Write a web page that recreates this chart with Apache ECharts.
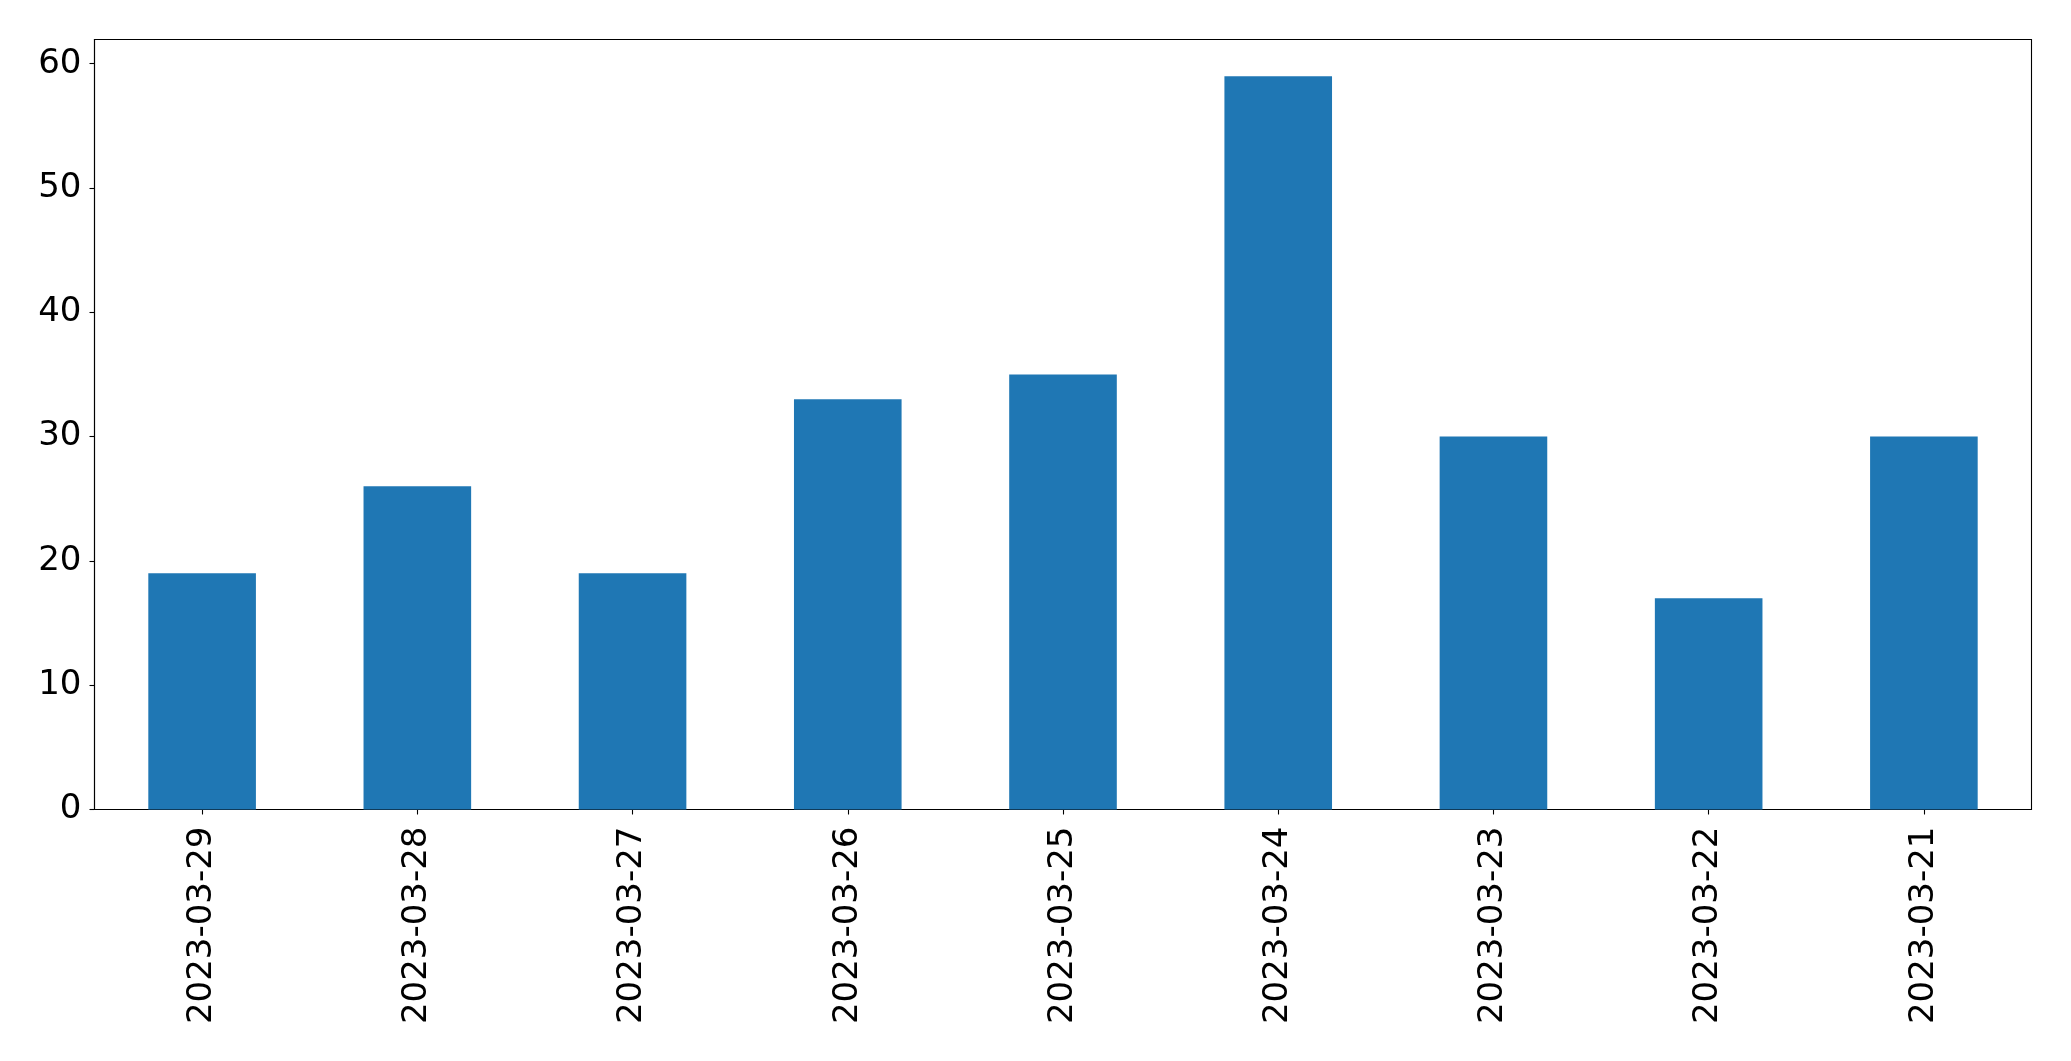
<!DOCTYPE html>
<html>
<head>
<meta charset="utf-8">
<script src="https://cdn.jsdelivr.net/npm/echarts@6/dist/echarts.min.js"></script>
<style>html,body{margin:0;padding:0;background:#fff;}#c{width:2071px;height:1061px;}</style>
</head>
<body>
<div id="c"></div>
<script>
const categories = ['2023-03-29','2023-03-28','2023-03-27','2023-03-26','2023-03-25','2023-03-24','2023-03-23','2023-03-22','2023-03-21'];
const values = [19, 26, 19, 33, 35, 59, 30, 17, 30];
const yTicks = [0, 10, 20, 30, 40, 50, 60];

const chart = echarts.init(document.getElementById('c'), null, {renderer: 'canvas'});
const font = 'DejaVu Sans';
chart.setOption({
  animation: false,
  backgroundColor: '#ffffff',
  grid: {
    left: 94.5, right: 39.5, top: 39.5, bottom: 251.5,
    show: true, borderColor: '#000', borderWidth: 1.1, backgroundColor: 'transparent'
  },
  xAxis: {
    type: 'category',
    data: categories,
    boundaryGap: true,
    axisLine: {lineStyle: {color: '#000', width: 1.1}},
    axisTick: {show: true, alignWithLabel: true, length: 5, lineStyle: {color: '#000', width: 1.1}},
    axisLabel: {rotate: 90, margin: 17, color: '#000', fontFamily: font, fontSize: 34, interval: 0}
  },
  yAxis: {
    type: 'value',
    min: 0, max: 61.95,
    splitLine: {show: false},
    axisLine: {show: true, lineStyle: {color: '#000', width: 1.1}},
    axisTick: {show: true, length: 5, lineStyle: {color: '#000', width: 1.1}, customValues: yTicks},
    axisLabel: {margin: 13, color: '#000', fontFamily: font, fontSize: 34, customValues: yTicks}
  },
  series: [{
    type: 'bar',
    data: values,
    barWidth: '50%',
    itemStyle: {color: '#1f77b4'}
  }]
});
</script>
</body>
</html>
